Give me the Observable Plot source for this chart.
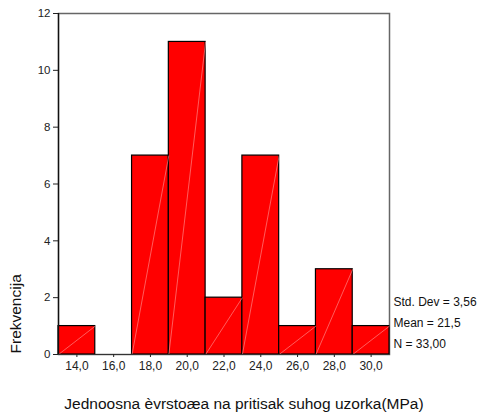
<!DOCTYPE html>
<html>
<head>
<meta charset="utf-8">
<script src="https://cdn.jsdelivr.net/npm/d3@7"></script>
<script src="https://cdn.jsdelivr.net/npm/@observablehq/plot@0.6"></script>
<style>
body { margin: 0; background: #fff; }
svg { display: block; }
</style>
</head>
<body>
<div id="chart"></div>
<script>
const binCenters = [14, 16, 18, 20, 22, 24, 26, 28, 30];
const counts = [1, 0, 7, 11, 2, 7, 1, 3, 1];
const tickLabels = ["14,0", "16,0", "18,0", "20,0", "22,0", "24,0", "26,0", "28,0", "30,0"];
const binWidth = 2;
const yTicks = [0, 2, 4, 6, 8, 10, 12];
const statsLines = ["Std. Dev = 3,56", "Mean = 21,5", "N = 33,00"];
const xTitle = "Jednoosna èvrstoæa na pritisak suhog uzorka(MPa)";
const yTitle = "Frekvencija";

const bins = binCenters.map((c, i) => ({x1: c - binWidth / 2, x2: c + binWidth / 2, y: counts[i]}));
const bars = bins.filter(d => d.y > 0);
const font = "'Liberation Sans', Arial, sans-serif";

const statMarks = statsLines.map((t, i) =>
  Plot.text([t], {text: d => d, frameAnchor: "bottom-right", textAnchor: "start", lineAnchor: "middle", dx: 4, dy: -52 + i * 21, fontSize: 12, fill: "#111"})
);

const chart = Plot.plot({
  width: 479,
  height: 413,
  marginLeft: 58,
  marginRight: 90,
  marginTop: 13,
  marginBottom: 59,
  style: {fontFamily: font, fontSize: "11px", color: "#222", background: "#fff"},
  x: {domain: [13, 31]},
  y: {domain: [0, 12]},
  marks: [
    Plot.frame({stroke: "#666", strokeWidth: 1.5}),
    Plot.rectY(bars, {x1: "x1", x2: "x2", y: "y", fill: "#ff0000", stroke: "#000", strokeWidth: 1.2, inset: 0}),
    Plot.link(bars, {x1: "x1", y1: () => 0, x2: "x2", y2: "y", stroke: "#ff9a9a", strokeWidth: 0.6}),
    Plot.ruleY([0], {stroke: "#333", strokeWidth: 1.2}),
    Plot.ruleX([13], {stroke: "#111", strokeWidth: 1.3}),
    Plot.axisY({ticks: yTicks, tickSize: 5, tickPadding: 3, tickFormat: d => String(d), label: null, fontSize: 11.5}),
    Plot.axisX({ticks: binCenters, tickSize: 3, tickPadding: 4, tickFormat: (d) => tickLabels[binCenters.indexOf(d)], label: null, fontSize: 12}),
    Plot.text([yTitle], {text: d => d, frameAnchor: "bottom-left", rotate: -90, textAnchor: "start", lineAnchor: "middle", dx: -42, dy: -1, fontSize: 15.5, fill: "#111"}),
    Plot.text([xTitle], {text: d => d, frameAnchor: "bottom", dx: 20, dy: 50, lineAnchor: "middle", fontSize: 15.5, fill: "#111"}),
    ...statMarks
  ]
});
document.getElementById("chart").appendChild(chart);
</script>
</body>
</html>
